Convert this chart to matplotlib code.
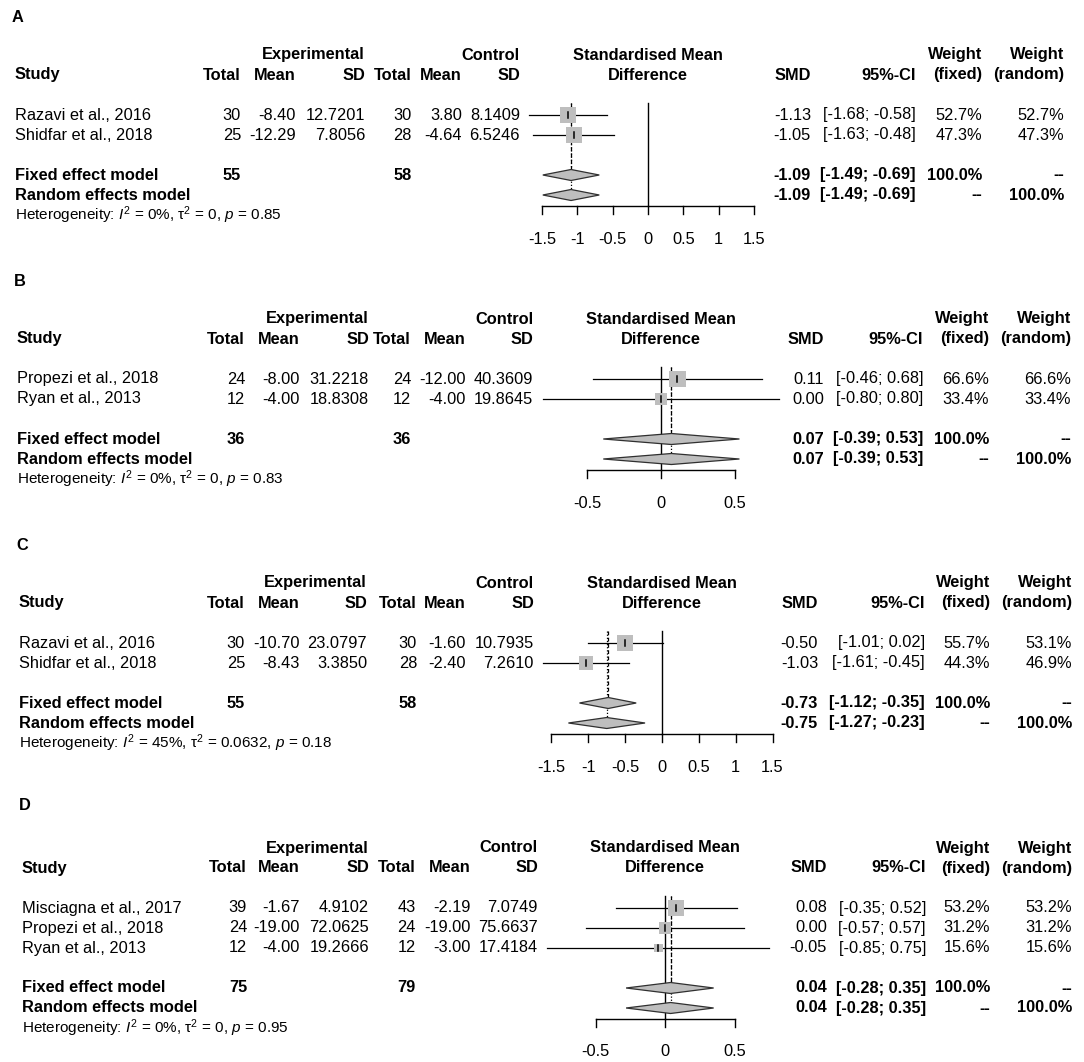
import numpy as np
import matplotlib
matplotlib.use("Agg")
import matplotlib.pyplot as plt
from matplotlib.patches import Polygon, Rectangle

plt.rcParams["font.family"] = ["Liberation Sans", "DejaVu Sans"]
plt.rcParams["mathtext.fontset"] = "custom"
plt.rcParams["mathtext.rm"] = "Liberation Sans"
plt.rcParams["mathtext.it"] = "Liberation Sans:italic"
plt.rcParams["mathtext.bf"] = "Liberation Sans:bold"

W, H = 1084, 1062

# ---- panel A ----
a_study = ["Razavi et al., 2016", "Shidfar et al., 2018"]
a_exp_n = [30, 25]
a_exp_mean = [-8.40, -12.29]
a_exp_sd = [12.7201, 7.8056]
a_ctl_n = [30, 28]
a_ctl_mean = [3.80, -4.64]
a_ctl_sd = [8.1409, 6.5246]
a_smd = [-1.13, -1.05]
a_lo = [-1.68, -1.63]
a_hi = [-0.58, -0.48]
a_wf = [52.7, 47.3]
a_wr = [52.7, 47.3]
a_fixed = [-1.09, -1.49, -0.69]
a_random = [-1.09, -1.49, -0.69]
a_tot = [55, 58]
a_het = ["0%", "0", "0.85"]
a_ticks = [-1.5, -1, -0.5, 0, 0.5, 1, 1.5]

# ---- panel B ----
b_study = ["Propezi et al., 2018", "Ryan et al., 2013"]
b_exp_n = [24, 12]
b_exp_mean = [-8.00, -4.00]
b_exp_sd = [31.2218, 18.8308]
b_ctl_n = [24, 12]
b_ctl_mean = [-12.00, -4.00]
b_ctl_sd = [40.3609, 19.8645]
b_smd = [0.11, 0.00]
b_lo = [-0.46, -0.80]
b_hi = [0.68, 0.80]
b_wf = [66.6, 33.4]
b_wr = [66.6, 33.4]
b_fixed = [0.07, -0.39, 0.53]
b_random = [0.07, -0.39, 0.53]
b_tot = [36, 36]
b_het = ["0%", "0", "0.83"]
b_ticks = [-0.5, 0, 0.5]

# ---- panel C ----
c_study = ["Razavi et al., 2016", "Shidfar et al., 2018"]
c_exp_n = [30, 25]
c_exp_mean = [-10.70, -8.43]
c_exp_sd = [23.0797, 3.3850]
c_ctl_n = [30, 28]
c_ctl_mean = [-1.60, -2.40]
c_ctl_sd = [10.7935, 7.2610]
c_smd = [-0.50, -1.03]
c_lo = [-1.01, -1.61]
c_hi = [0.02, -0.45]
c_wf = [55.7, 44.3]
c_wr = [53.1, 46.9]
c_fixed = [-0.73, -1.12, -0.35]
c_random = [-0.75, -1.27, -0.23]
c_tot = [55, 58]
c_het = ["45%", "0.0632", "0.18"]
c_ticks = [-1.5, -1, -0.5, 0, 0.5, 1, 1.5]

# ---- panel D ----
d_study = ["Misciagna et al., 2017", "Propezi et al., 2018", "Ryan et al., 2013"]
d_exp_n = [39, 24, 12]
d_exp_mean = [-1.67, -19.00, -4.00]
d_exp_sd = [4.9102, 72.0625, 19.2666]
d_ctl_n = [43, 24, 12]
d_ctl_mean = [-2.19, -19.00, -3.00]
d_ctl_sd = [7.0749, 75.6637, 17.4184]
d_smd = [0.08, 0.00, -0.05]
d_lo = [-0.35, -0.57, -0.85]
d_hi = [0.52, 0.57, 0.75]
d_wf = [53.2, 31.2, 15.6]
d_wr = [53.2, 31.2, 15.6]
d_fixed = [0.04, -0.28, 0.35]
d_random = [0.04, -0.28, 0.35]
d_tot = [75, 79]
d_het = ["0%", "0", "0.95"]
d_ticks = [-0.5, 0, 0.5]

panels = [
    ("A", dict(study=a_study, en=a_exp_n, em=a_exp_mean, es=a_exp_sd, cn=a_ctl_n, cm=a_ctl_mean,
               cs=a_ctl_sd, smd=a_smd, lo=a_lo, hi=a_hi, wf=a_wf, wr=a_wr, fixed=a_fixed,
               random=a_random, tot=a_tot, het=a_het, ticks=a_ticks)),
    ("B", dict(study=b_study, en=b_exp_n, em=b_exp_mean, es=b_exp_sd, cn=b_ctl_n, cm=b_ctl_mean,
               cs=b_ctl_sd, smd=b_smd, lo=b_lo, hi=b_hi, wf=b_wf, wr=b_wr, fixed=b_fixed,
               random=b_random, tot=b_tot, het=b_het, ticks=b_ticks)),
    ("C", dict(study=c_study, en=c_exp_n, em=c_exp_mean, es=c_exp_sd, cn=c_ctl_n, cm=c_ctl_mean,
               cs=c_ctl_sd, smd=c_smd, lo=c_lo, hi=c_hi, wf=c_wf, wr=c_wr, fixed=c_fixed,
               random=c_random, tot=c_tot, het=c_het, ticks=c_ticks)),
    ("D", dict(study=d_study, en=d_exp_n, em=d_exp_mean, es=d_exp_sd, cn=d_ctl_n, cm=d_ctl_mean,
               cs=d_ctl_sd, smd=d_smd, lo=d_lo, hi=d_hi, wf=d_wf, wr=d_wr, fixed=d_fixed,
               random=d_random, tot=d_tot, het=d_het, ticks=d_ticks)),
]

# pixel layout of each panel (column right edges, forest zero and scale)
layout = {
    "A": dict(label_y=17, head_y=55, rh=20, sx=15, cols=[241, 296, 365, 412, 462, 520],
              zero=648, scale=70.6, smd_r=811, ci_r=916, wf_r=982, wr_r=1064),
    "B": dict(label_y=281, head_y=319, rh=20, sx=17, cols=[245, 300, 369, 411, 466, 533],
              zero=661, scale=148, smd_r=824, ci_r=923, wf_r=989, wr_r=1071),
    "C": dict(label_y=545, head_y=583, rh=20, sx=19, cols=[245, 300, 367, 417, 466, 534],
              zero=662, scale=73.7, smd_r=818, ci_r=925, wf_r=990, wr_r=1072),
    "D": dict(label_y=806, head_y=848, rh=20, sx=22, cols=[247, 300, 369, 416, 471, 538],
              zero=665, scale=139, smd_r=827, ci_r=926, wf_r=990, wr_r=1072),
}

FS = 11.75
FSB = 11.75
GRAY = "#bebebe"

fig = plt.figure(figsize=(W / 100, H / 100), dpi=100)
tx = fig.add_axes([0, 0, 1, 1])
tx.set_xlim(0, W)
tx.set_ylim(H, 0)
tx.axis("off")


def put(x, y, s, ha="right", bold=False, size=None):
    if size is None:
        size = FSB if bold else FS
    tx.text(x, y, s, ha=ha, va="center", fontsize=size,
            fontweight="bold" if bold else "normal", color="black")


for name, d in panels:
    L = layout[name]
    c = L["cols"]
    rh = L["rh"]
    center = L["zero"] + L["scale"] * (d["ticks"][0] + d["ticks"][-1]) / 2
    y1 = L["head_y"]
    y2 = y1 + rh

    put(L["sx"] - 3, L["label_y"], name, ha="left", bold=True)
    put(c[2], y1, "Experimental", bold=True)
    put(c[5], y1, "Control", bold=True)
    put(center, y1, "Standardised Mean", ha="center", bold=True)
    put(center, y2, "Difference", ha="center", bold=True)
    put(L["wf_r"], y1, "Weight", bold=True)
    put(L["wr_r"], y1, "Weight", bold=True)
    put(L["sx"], y2, "Study", ha="left", bold=True)
    for x, lab in zip(c, ["Total", "Mean", "SD", "Total", "Mean", "SD"]):
        put(x, y2, lab, bold=True)
    put(L["smd_r"], y2, "SMD", bold=True)
    put(L["ci_r"], y2, "95%-CI", bold=True)
    put(L["wf_r"], y2, "(fixed)", bold=True)
    put(L["wr_r"], y2, "(random)", bold=True)

    # forest axes laid over the whole figure, x in SMD units
    ax = fig.add_axes([0, 0, 1, 1])
    ax.set_xlim(-L["zero"] / L["scale"], (W - L["zero"]) / L["scale"])
    ax.set_ylim(H, 0)
    ax.axis("off")
    ax.patch.set_alpha(0)

    n = len(d["study"])
    rows = [y2 + 2 * rh + i * rh for i in range(n)]
    yf = rows[-1] + 2 * rh
    yr = yf + rh
    ytop = rows[0] - 12
    ya = yr + 11

    wmax = max(d["wf"])
    for i, y in enumerate(rows):
        put(L["sx"], y, d["study"][i], ha="left")
        put(c[0], y, f"{d['en'][i]}")
        put(c[1], y, f"{d['em'][i]:.2f}")
        put(c[2], y, f"{d['es'][i]:.4f}")
        put(c[3], y, f"{d['cn'][i]}")
        put(c[4], y, f"{d['cm'][i]:.2f}")
        put(c[5], y, f"{d['cs'][i]:.4f}")
        put(L["smd_r"], y, f"{d['smd'][i]:.2f}")
        put(L["ci_r"], y, f"[{d['lo'][i]:.2f}; {d['hi'][i]:.2f}]")
        put(L["wf_r"], y, f"{d['wf'][i]:.1f}%")
        put(L["wr_r"], y, f"{d['wr'][i]:.1f}%")

        est = d["smd"][i]
        side = 16.5 * np.sqrt(d["wf"][i] / wmax)
        ax.plot([d["lo"][i], d["hi"][i]], [y, y], color="black", lw=0.9, zorder=2)
        ax.add_patch(Rectangle((est - side / 2 / L["scale"], y - side / 2),
                               side / L["scale"], side, facecolor=GRAY,
                               edgecolor="none", zorder=3))
        ax.plot([est, est], [y - 3, y + 3], color="black", lw=1.1, zorder=4)

    # pooled rows
    put(L["sx"], yf, "Fixed effect model", ha="left", bold=True)
    put(L["sx"], yr, "Random effects model", ha="left", bold=True)
    put(c[0], yf, f"{d['tot'][0]}", bold=True)
    put(c[3], yf, f"{d['tot'][1]}", bold=True)
    for y, (est, lo, hi), wf, wr in [(yf, d["fixed"], "100.0%", "--"),
                                     (yr, d["random"], "--", "100.0%")]:
        put(L["smd_r"], y, f"{est:.2f}", bold=True)
        put(L["ci_r"], y, f"[{lo:.2f}; {hi:.2f}]", bold=True)
        put(L["wf_r"], y, wf, bold=True)
        put(L["wr_r"], y, wr, bold=True)
        ax.add_patch(Polygon([(lo, y), (est, y - 5.5), (hi, y), (est, y + 5.5)],
                             closed=True, facecolor=GRAY, edgecolor="#303030",
                             lw=0.9, zorder=3))

    i2, tau2, p = d["het"]
    put(L["sx"], yr + 20,
        f"Heterogeneity: $I^2$ = {i2}, $\\mathregular{{\u03c4^2}}$ = {tau2}, $p$ = {p}",
        ha="left", size=11)

    # reference lines
    ax.plot([0, 0], [ytop, ya], color="black", lw=1.0, zorder=1)
    ax.plot([d["fixed"][0]] * 2, [ytop, yf - 5.5], color="black", lw=0.9,
            ls=(0, (3, 2)), zorder=1)
    ax.plot([d["random"][0]] * 2, [ytop, yr - 5.5], color="black", lw=0.9,
            ls=(0, (1, 1.5)), zorder=1)

    # x axis
    t = d["ticks"]
    ax.plot([t[0], t[-1]], [ya, ya], color="black", lw=1.0)
    for v in t:
        ax.plot([v, v], [ya, ya + 8], color="black", lw=1.0)
        ax.text(v, ya + 33, f"{v:g}", ha="center", va="center", fontsize=FS)

fig.savefig("out.png", dpi=100)
